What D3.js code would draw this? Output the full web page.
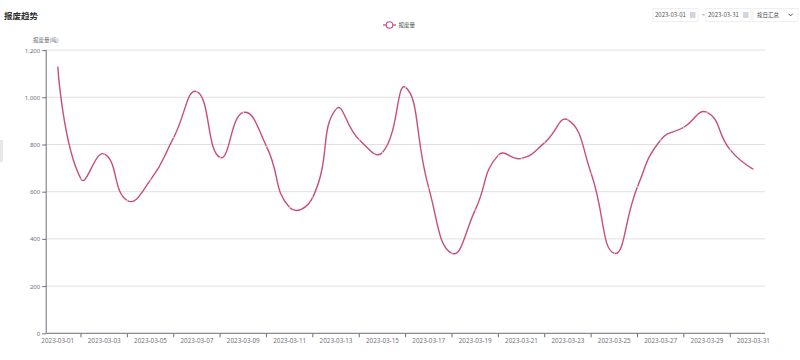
<!DOCTYPE html>
<html><head><meta charset="utf-8">
<script src="https://cdn.jsdelivr.net/npm/d3@7/dist/d3.min.js"></script>
<style>
html,body{margin:0;padding:0;background:#fff;}
svg{display:block;font-family:"Noto Sans CJK SC","Noto Sans",sans-serif;}
</style></head>
<body>
<svg id="chart" width="800" height="360"></svg>
<script>
const dates = d3.range(1, 32).map(d => "2023-03-" + String(d).padStart(2, "0"));
const values = [1130, 654, 760, 562, 650, 830, 1024, 745, 936, 792, 533, 577, 950, 820, 766, 1042,
                615, 339, 522, 755, 741, 808, 904, 678, 339, 621, 819, 873, 936, 777, 695];
const yTicks = [0, 200, 400, 600, 800, 1000, 1200];
const seriesName = "报废量";
const title = "报废趋势";
const yName = "报废量(吨)";
const startDate = "2023-03-01", endDate = "2023-03-31", mode = "按日汇总";

const svg = d3.select("#chart");
const color = "#c84d7f";
const axisColor = "#6e7079";
const labelColor = "#6e7079";

const x = d3.scaleBand().domain(dates).range([46.2, 765]);
const y = d3.scaleLinear().domain([0, 1200]).range([333.3, 50.1]);
const cx = d => x(d) + x.bandwidth() / 2;

// left small tab
svg.append("rect").attr("x", 0).attr("y", 140).attr("width", 3).attr("height", 22)
  .attr("fill", "#e8e8e8");

// title
svg.append("text").attr("x", 4).attr("y", 18.5).text(title)
  .attr("font-size", 8.5).attr("font-weight", "bold").attr("fill", "#333");

// date pickers
const toolbar = svg.append("g");
function dateBox(x0, txt) {
  toolbar.append("rect").attr("x", x0).attr("y", 8.5).attr("width", 45).attr("height", 13)
    .attr("fill", "#fff").attr("stroke", "#ececec").attr("stroke-width", 0.8);
  toolbar.append("text").attr("x", x0 + 2).attr("y", 17.3).text(txt)
    .attr("font-size", 6).attr("fill", "#555");
  toolbar.append("rect").attr("x", x0 + 37).attr("y", 12).attr("width", 5.5).attr("height", 6)
    .attr("fill", "#cfd6e2");
}
dateBox(653, startDate);
toolbar.append("text").attr("x", 701.5).attr("y", 17).text("~").attr("font-size", 6).attr("fill", "#666");
dateBox(706, endDate);
toolbar.append("rect").attr("x", 753).attr("y", 8.5).attr("width", 45).attr("height", 13)
  .attr("fill", "#fff").attr("stroke", "#ececec").attr("stroke-width", 0.8);
toolbar.append("text").attr("x", 757).attr("y", 17.3).text(mode).attr("font-size", 5.5).attr("fill", "#444");
toolbar.append("path").attr("d", "M788.5,13.8 L790.6,15.9 L792.7,13.8").attr("fill", "none")
  .attr("stroke", "#555").attr("stroke-width", 1);

// legend
const lg = svg.append("g");
lg.append("line").attr("x1", 383).attr("x2", 396).attr("y1", 25).attr("y2", 25)
  .attr("stroke", color).attr("stroke-width", 1.3);
lg.append("circle").attr("cx", 389.5).attr("cy", 25).attr("r", 3.3)
  .attr("fill", "#fff").attr("stroke", color).attr("stroke-width", 1.1);
lg.append("text").attr("x", 398.5).attr("y", 27.2).text(seriesName)
  .attr("font-size", 5.5).attr("fill", "#555");

// y name
svg.append("text").attr("x", 33).attr("y", 41.5).text(yName)
  .attr("font-size", 5.5).attr("fill", labelColor);

// grid
svg.append("g").selectAll("line").data(yTicks.filter(d => d > 0)).join("line")
  .attr("x1", 46.2).attr("x2", 765).attr("y1", d => y(d)).attr("y2", d => y(d))
  .attr("stroke", "#e0e0e0").attr("stroke-width", 1);

// y axis
const yAxis = d3.axisLeft(y).tickValues(yTicks).tickSize(4).tickPadding(2)
  .tickFormat(d3.format(","));
const ya = svg.append("g").attr("transform", "translate(46.2,0)").call(yAxis);
ya.select(".domain").attr("stroke", axisColor).attr("d", "M0,50.1V333.3");
ya.selectAll(".tick line").attr("stroke", axisColor);
ya.selectAll(".tick text").attr("font-size", 6).attr("fill", labelColor)
  .attr("font-family", "'Noto Sans','Noto Sans CJK SC',sans-serif");

// x axis
const xa = svg.append("g").attr("transform", "translate(0,333.3)");
xa.append("line").attr("x1", 46.2).attr("x2", 765).attr("y1", 0).attr("y2", 0)
  .attr("stroke", axisColor).attr("stroke-width", 1);
xa.selectAll(".xt").data(dates.filter((d, i) => i % 2 === 1)).join("line").attr("class", "xt")
  .attr("x1", d => cx(d)).attr("x2", d => cx(d)).attr("y1", 0).attr("y2", 4)
  .attr("stroke", axisColor).attr("stroke-width", 1);
xa.selectAll(".xl").data(dates.filter((d, i) => i % 2 === 0)).join("text").attr("class", "xl")
  .attr("x", d => cx(d)).attr("y", 9.3).attr("text-anchor", "middle").text(d => d)
  .attr("font-size", 6.3).attr("fill", labelColor)
  .attr("font-family", "'Noto Sans','Noto Sans CJK SC',sans-serif");

// smooth line (ECharts-like bezier smoothing)
function smoothPath(pts, smooth) {
  const p = d3.path();
  const n = pts.length;
  p.moveTo(pts[0][0], pts[0][1]);
  let c0x = pts[0][0], c0y = pts[0][1];
  for (let i = 1; i < n; i++) {
    const [xx, yy] = pts[i];
    const [px, py] = pts[i - 1];
    let c1x = xx, c1y = yy, nc0x = xx, nc0y = yy;
    if (i < n - 1) {
      const [nx, ny] = pts[i + 1];
      const vx = nx - px, vy = ny - py;
      const lp = Math.hypot(xx - px, yy - py), ln = Math.hypot(nx - xx, ny - yy);
      const r = ln / (lp + ln);
      c1x = xx - vx * smooth * (1 - r);
      c1y = yy - vy * smooth * (1 - r);
      nc0x = xx + vx * smooth * r;
      nc0y = yy + vy * smooth * r;
    }
    p.bezierCurveTo(c0x, c0y, c1x, c1y, xx, yy);
    c0x = nc0x; c0y = nc0y;
  }
  return p.toString();
}
const data = dates.map((d, i) => ({ d, v: values[i] }));
const pts = data.map(p => [cx(p.d), y(p.v)]);
svg.append("path").attr("d", smoothPath(pts, 0.5)).attr("fill", "none")
  .attr("stroke", color).attr("stroke-width", 1.4).attr("stroke-linejoin", "round");
svg.append("g").selectAll("circle").data(data).join("circle")
  .attr("cx", p => cx(p.d)).attr("cy", p => y(p.v)).attr("r", 0.7)
  .attr("fill", "#f0c8d8").attr("stroke", "none");
</script>
</body></html>
